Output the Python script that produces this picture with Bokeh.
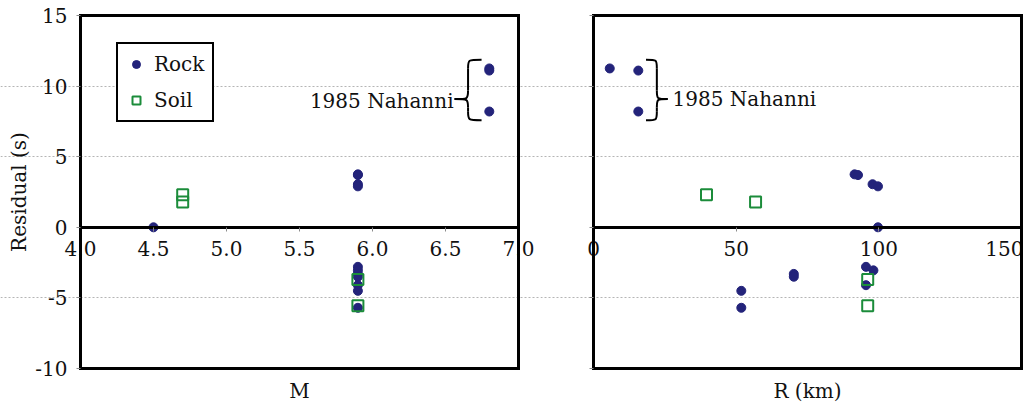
import math
from bokeh.plotting import figure
from bokeh.models import (ColumnDataSource, FixedTicker, LinearAxis, Legend, LegendItem,
                          Label, Range1d, Grid)
from bokeh.layouts import row
from bokeh.embed import file_html
from bokeh.resources import INLINE

FONT = "DejaVu Serif"
NAVY = "#23237a"
GREEN = "#1b8c3a"
TXT = "#111111"

# ---------------- data ----------------
# Rock sites: magnitude M, distance R (km), residual (s)
rock_M = [6.8, 6.8, 6.8, 5.9, 5.9, 5.9, 5.9, 4.5, 5.9, 5.9, 5.9, 5.9, 5.9, 5.9, 5.9]
rock_R = [5.7, 15.7, 15.7, 91.5, 92.7, 97.8, 99.7, 99.7, 95.5, 98.1, 70.2, 70.2, 95.5, 51.8, 51.8]
rock_res = [11.25, 11.1, 8.2, 3.75, 3.7, 3.05, 2.9, 0.0, -2.8, -3.05, -3.3, -3.5, -4.1, -4.5, -5.7]

# Soil sites
soil_M = [4.7, 4.7, 5.9, 5.9]
soil_R = [39.6, 56.8, 96.1, 96.1]
soil_res = [2.3, 1.8, -3.7, -5.55]

# 1985 Nahanni records (subset of rock)
nah_M = [6.8, 6.8, 6.8]
nah_R = [5.7, 15.7, 15.7]
nah_res = [11.25, 11.1, 8.2]

y_ticks = [-10, -5, 0, 5, 10, 15]
y_tick_labels = ["-10", "-5", "0", "5", "10", "15"]
y_grid = [-5, 5, 10]
m_ticks = [4.0, 4.5, 5.0, 5.5, 6.0, 6.5, 7.0]
m_tick_labels = ["4.0", "4.5", "5.0", "5.5", "6.0", "6.5", "7.0"]
r_ticks = [0, 50, 100, 150]
r_tick_labels = ["0", "50", "100", "150"]
y_lim = (-10, 15)
m_lim = (4.0, 7.0)
r_lim = (0, 150)
y_title = "Residual (s)"
m_title = "M"
r_title = "R (km)"
nah_text = "1985 Nahanni"

rock = ColumnDataSource(dict(M=rock_M, R=rock_R, res=rock_res))
soil = ColumnDataSource(dict(M=soil_M, R=soil_R, res=soil_res))

# ---------------- layout (pixels) ----------------
H = 404
BOX_TOP, BOX_BOTTOM = 15, 368          # plot box, in canvas pixels


def make_panel(W, box_left, box_right, xlim, xticks, xlabels, xtitle, xcol, show_y):
    kx = (box_right - box_left) / (xlim[1] - xlim[0])
    ky = (BOX_BOTTOM - BOX_TOP) / (y_lim[1] - y_lim[0])
    x_range = Range1d(xlim[0] - box_left / kx, xlim[1] + (W - box_right) / kx)
    y_range = Range1d(y_lim[0] - (H - BOX_BOTTOM) / ky, y_lim[1] + BOX_TOP / ky)

    p = figure(frame_width=W, frame_height=H, x_range=x_range, y_range=y_range,
               output_backend="svg", toolbar_location=None,
               x_axis_location=None, y_axis_location=None,
               min_border=0, min_border_left=0, min_border_right=0,
               min_border_top=0, min_border_bottom=0)
    p.outline_line_color = None
    p.background_fill_color = "white"
    p.border_fill_color = "white"
    for g in list(p.grid):
        g.visible = False

    p.add_layout(Grid(dimension=1, ticker=FixedTicker(ticks=y_grid), bounds=xlim,
                      grid_line_color="#b5b5b5", grid_line_width=1, grid_line_dash="2 2"))

    common = dict(axis_line_width=3, axis_line_color="black", axis_line_cap="square",
                  minor_tick_line_color=None, major_label_text_font=FONT,
                  major_label_text_font_size="20px", major_label_text_color=TXT,
                  axis_label_text_font=FONT, axis_label_text_font_size="20px",
                  axis_label_text_font_style="normal", axis_label_text_color=TXT)

    # left edge of the box = y axis
    yax = LinearAxis(ticker=FixedTicker(ticks=y_ticks), fixed_location=xlim[0], bounds=y_lim,
                     major_tick_out=4, major_tick_in=0, major_tick_line_color="#8a8a8a",
                     major_label_standoff=9, **common)
    if show_y:
        yax.major_label_overrides = dict(zip(y_ticks, y_tick_labels))
        yax.axis_label = y_title
        yax.axis_label_standoff = 1
    else:
        yax.major_label_overrides = {t: "" for t in y_ticks}
    p.add_layout(yax, "left")

    # x axis drawn through residual = 0
    xax = LinearAxis(ticker=FixedTicker(ticks=xticks), fixed_location=0, bounds=xlim,
                     major_tick_out=4, major_tick_in=0, major_tick_line_color="#8a8a8a",
                     major_label_standoff=10, **common)
    xax.major_label_overrides = dict(zip(xticks, xlabels))
    p.add_layout(xax, "below")

    # bottom edge of the box, carrying the x-axis title
    bax = LinearAxis(ticker=FixedTicker(ticks=[]), fixed_location=y_lim[0], bounds=xlim,
                     major_tick_out=0, major_tick_in=0, axis_label=xtitle,
                     axis_label_standoff=10, **common)
    p.add_layout(bax, "below")

    # top and right edges of the box
    tax = LinearAxis(ticker=FixedTicker(ticks=[]), fixed_location=y_lim[1], bounds=xlim,
                     major_tick_out=0, major_tick_in=0, **common)
    p.add_layout(tax, "above")
    rax = LinearAxis(ticker=FixedTicker(ticks=[]), fixed_location=xlim[1], bounds=y_lim,
                     major_tick_out=0, major_tick_in=0, **common)
    p.add_layout(rax, "right")

    r1 = p.scatter(xcol, "res", source=rock, marker="circle", size=9,
                   fill_color=NAVY, line_color=NAVY)
    r2 = p.scatter(xcol, "res", source=soil, marker="square", size=11,
                   fill_color=None, line_color=GREEN, line_width=2)
    return p, r1, r2


def brace(p, x_end, x_tip, y_top, y_bot, y_tip, d):
    xm = (x_end + x_tip) / 2
    segs = [
        (x_end, y_top, xm, y_top - d, xm, y_top, xm, y_top),
        (xm, y_top - d, xm, y_tip + d, xm, y_top - d, xm, y_tip + d),
        (xm, y_tip + d, x_tip, y_tip, xm, y_tip, xm, y_tip),
        (x_tip, y_tip, xm, y_tip - d, xm, y_tip, xm, y_tip),
        (xm, y_tip - d, xm, y_bot + d, xm, y_tip - d, xm, y_bot + d),
        (xm, y_bot + d, x_end, y_bot, xm, y_bot, xm, y_bot),
    ]
    cols = list(zip(*segs))
    p.bezier(x0=list(cols[0]), y0=list(cols[1]), x1=list(cols[2]), y1=list(cols[3]),
             cx0=list(cols[4]), cy0=list(cols[5]), cx1=list(cols[6]), cy1=list(cols[7]),
             line_color="black", line_width=2)


# ---------------- left panel: residual vs M ----------------
W1 = 540
pL, rL1, rL2 = make_panel(W1, 80, 518, m_lim, m_ticks, m_tick_labels, m_title, "M", True)

legend = Legend(items=[LegendItem(label="Rock", renderers=[rL1]),
                       LegendItem(label="Soil", renderers=[rL2])],
                location=(116, H - 122), orientation="vertical",
                label_text_font=FONT, label_text_font_size="20px", label_text_color=TXT,
                border_line_color="black", border_line_width=2, border_line_alpha=1.0,
                background_fill_color="white", background_fill_alpha=1.0,
                padding=8, spacing=12, margin=0,
                glyph_width=20, glyph_height=22, label_height=22, label_standoff=8)
pL.add_layout(legend)

pad = 0.62
nah_tip_y = 9.08
brace(pL, max(nah_M) - 0.053, max(nah_M) - 0.238, max(nah_res) + pad, min(nah_res) - pad,
      nah_tip_y, 0.6)
pL.add_layout(Label(x=max(nah_M) - 0.245, y=nah_tip_y - 0.1, text=nah_text, text_font=FONT,
                    text_font_size="20px", text_color=TXT, text_align="right",
                    text_baseline="middle"))

# ---------------- right panel: residual vs R ----------------
W2 = 1023 - W1
pR, _, _ = make_panel(W2, 593 - W1, 1021 - W1, r_lim, r_ticks, r_tick_labels, r_title, "R", False)
brace(pR, max(nah_R) + 2.7, max(nah_R) + 10.3, max(nah_res) + pad, min(nah_res) - pad,
      nah_tip_y, 0.6)
pR.add_layout(Label(x=max(nah_R) + 12.0, y=nah_tip_y, text=nah_text, text_font=FONT,
                    text_font_size="20px", text_color=TXT, text_align="left",
                    text_baseline="middle"))

layout = row(pL, pR, spacing=0)
open("out.html", "w").write(file_html(layout, INLINE))
